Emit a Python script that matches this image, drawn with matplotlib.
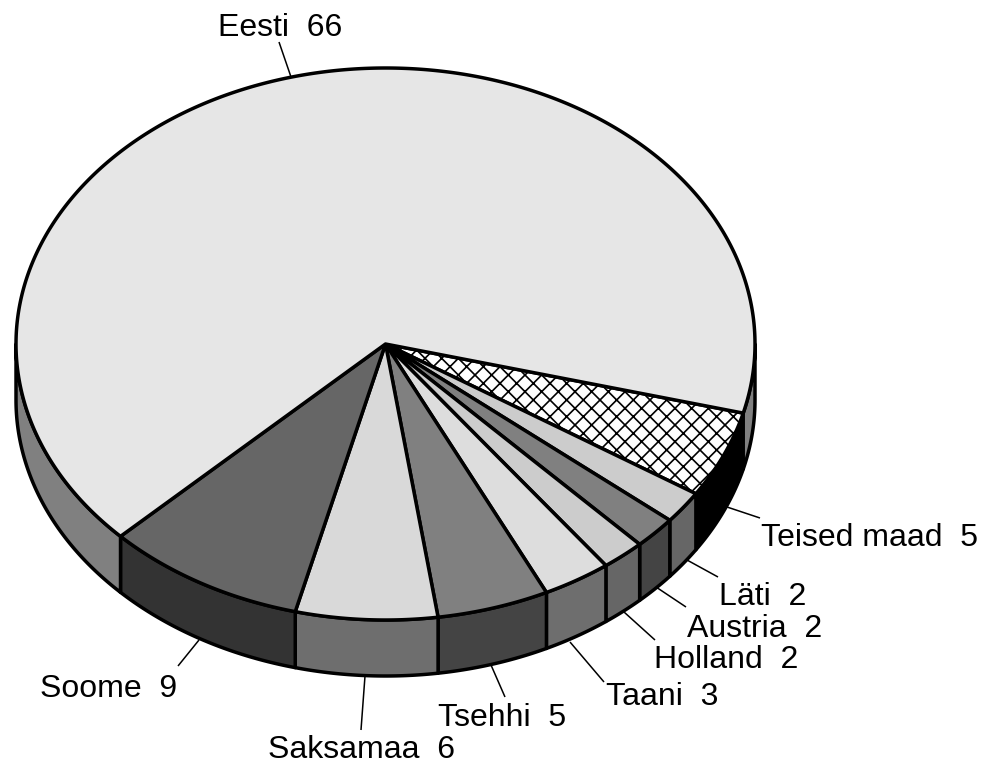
import numpy as np
import matplotlib
matplotlib.use("Agg")
import matplotlib.pyplot as plt
from matplotlib.patches import Polygon

categories = ["Teised maad", "Läti", "Austria", "Holland", "Taani", "Tsehhi", "Saksamaa", "Soome", "Eesti"]
values = [5, 2, 2, 2, 3, 5, 6, 9, 66]            # as printed in the labels
shares = [5.1, 1.9, 1.9, 1.9, 3.0, 4.9, 6.2, 8.8, 66.3]  # unrounded slice sizes

top_colors = ["white", "#cccccc", "#808080", "#cccccc", "#dddddd", "#808080", "#d9d9d9", "#666666", "#e6e6e6"]
side_colors = ["black", "#666666", "#444444", "#666666", "#6e6e6e", "#444444", "#6e6e6e", "#333333", "#808080"]

label_pos = [(761, 538), (719, 597), (687, 629), (654, 660), (606, 697), (438, 718), (268, 750), (40, 689), (218, 28)]
leaders = [((727, 507), (760, 518)), ((687, 560), (718, 577)), ((656, 587), (686, 607)),
           ((624, 612), (655, 640)), ((570, 642), (604, 682)), ((491, 665), (505, 697)),
           ((365, 676), (361, 730)), ((199, 640), (178, 666)), ((291, 77), (279, 42))]

plt.rcParams["font.family"] = ["Liberation Sans", "DejaVu Sans"]
plt.rcParams["hatch.linewidth"] = 1.2
plt.rcParams["hatch.color"] = "black"

fig = plt.figure(figsize=(9.85, 7.65), dpi=100)
ax = fig.add_axes([0, 0, 1, 1])
ax.set_xlim(0, 985)
ax.set_ylim(765, 0)
ax.axis("off")

CX, CY, RX, RY, DEPTH = 385.5, 344, 369.5, 276, 56
START = 14.5
LW = 2.5

def rim(a0, a1, dy=0):
    n = max(2, int(abs(a1 - a0) * 2) + 2)
    t = np.radians(np.linspace(a0, a1, n))
    return np.column_stack([CX + RX * np.cos(t), CY + dy + RY * np.sin(t)])

edges = START + np.concatenate([[0], np.cumsum(shares)]) * 360.0 / sum(shares)

# lower wall
for i in range(len(shares)):
    a0, a1 = edges[i], edges[i + 1]
    for lo, hi in [(a0, min(a1, 180)), (max(a0, 360), min(a1, 540))]:
        if hi > lo:
            pts = np.vstack([rim(lo, hi), rim(lo, hi, DEPTH)[::-1]])
            ax.add_patch(Polygon(pts, closed=True, fc=side_colors[i], ec="black", lw=LW, joinstyle="round", zorder=2))

# top face
for i in range(len(shares)):
    pts = np.vstack([[[CX, CY]], rim(edges[i], edges[i + 1])])
    hatch = "xx" if categories[i] == "Teised maad" else None
    ax.add_patch(Polygon(pts, closed=True, fc=top_colors[i], ec="black", lw=LW, joinstyle="round", hatch=hatch, zorder=3))

# leaders and labels
for (p, q) in leaders:
    ax.plot([p[0], q[0]], [p[1], q[1]], color="black", lw=1.1, zorder=1, solid_capstyle="butt")
for name, val, (x, y) in zip(categories, values, label_pos):
    ax.text(x, y, f"{name}  {val}", fontsize=23, ha="left", va="center", color="black", zorder=4)

fig.savefig("out.png", dpi=100, facecolor="white")
